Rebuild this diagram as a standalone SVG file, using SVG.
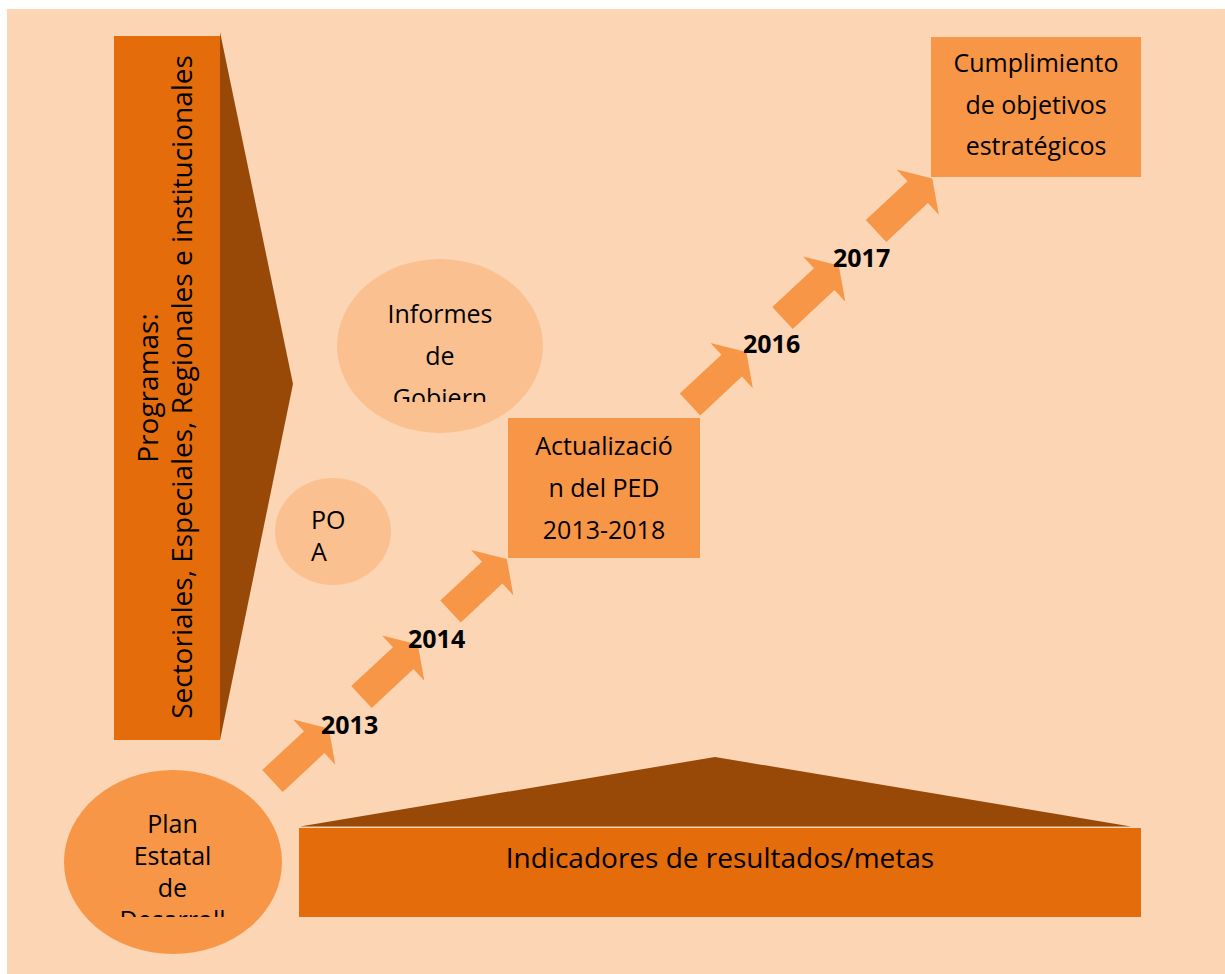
<svg xmlns="http://www.w3.org/2000/svg" xmlns:xlink="http://www.w3.org/1999/xlink" width="1225" height="974" viewBox="0 0 1225 974">
<style>
.t{font-family:"Open Sans","Liberation Sans",sans-serif;font-size:25px;fill:#000;}
.big{font-size:28px;}
.yr{font-family:"Open Sans","Liberation Sans",sans-serif;font-size:25px;font-weight:bold;fill:#000;}
.mid{text-anchor:middle;}
.box{fill:#F79646;}
.light{fill:#FAC090;}
.bar{fill:#E46C0A;}
.dark{fill:#984807;}
.arr{fill:#F79646;}
</style>
<defs>
<path id="arrow" d="M0,-15 H57 V-31 L77,0 L57,31 V15 H0 Z"/>
<clipPath id="clipInf"><rect x="330" y="280" width="220" height="122"/></clipPath>
<clipPath id="clipPlan"><rect x="60" y="800" width="230" height="117"/></clipPath>
</defs>
<rect x="7" y="9" width="1218" height="965" fill="#FCD5B5"/>
<g id="programas">
<polygon class="dark" points="220,32 293,384 220,740"/>
<rect class="bar" x="114" y="36" width="106" height="704"/>
<text class="t big mid" transform="translate(158,388) rotate(-90)">Programas:</text>
<text class="t big mid" transform="translate(191.5,387) rotate(-90)">Sectoriales, Especiales, Regionales e institucionales</text>
</g>
<g id="indicadores">
<polygon class="dark" points="300,826.5 715,757 1131,826.5"/>
<rect class="bar" x="299" y="828" width="842" height="89"/>
<text class="t big mid" x="720" y="868">Indicadores de resultados/metas</text>
</g>
<g id="informes">
<ellipse class="light" cx="440" cy="346" rx="103" ry="87"/>
<g clip-path="url(#clipInf)">
<text class="t mid" x="440" y="322.7">Informes</text>
<text class="t mid" x="440" y="365">de</text>
<text class="t mid" x="440" y="407.3">Gobiern</text>
</g>
</g>
<g id="poa">
<ellipse class="light" cx="333" cy="531.5" rx="58" ry="53.5"/>
<text class="t" x="311" y="529">PO</text>
<text class="t" x="311" y="561">A</text>
</g>
<g id="plan">
<ellipse class="box" cx="173" cy="862" rx="109" ry="92"/>
<g clip-path="url(#clipPlan)">
<text class="t mid" x="172.5" y="832.7">Plan</text>
<text class="t mid" x="172.5" y="865">Estatal</text>
<text class="t mid" x="172.5" y="896.7">de</text>
<text class="t mid" x="172.5" y="928.5">Desarroll</text>
</g>
</g>
<g id="actualizacion">
<rect class="box" x="508" y="418" width="192" height="140"/>
<text class="t mid" x="604" y="455">Actualizació</text>
<text class="t mid" x="604" y="497">n del PED</text>
<text class="t mid" x="604" y="538.5">2013-2018</text>
</g>
<g id="cumplimiento">
<rect class="box" x="931" y="37" width="210" height="140"/>
<text class="t mid" x="1036" y="72">Cumplimiento</text>
<text class="t mid" x="1036" y="114">de objetivos</text>
<text class="t mid" x="1036" y="155">estratégicos</text>
</g>
<g id="connectors" class="arr">
<use xlink:href="#arrow" transform="translate(272.5,781) rotate(-43)"/>
<use xlink:href="#arrow" transform="translate(361.5,697) rotate(-43)"/>
<use xlink:href="#arrow" transform="translate(450.5,611.5) rotate(-43)"/>
<use xlink:href="#arrow" transform="translate(690,404.5) rotate(-43)"/>
<use xlink:href="#arrow" transform="translate(782.5,318) rotate(-43)"/>
<use xlink:href="#arrow" transform="translate(876,231) rotate(-43)"/>
</g>
<g id="years">
<text class="yr" x="321" y="734">2013</text>
<text class="yr" x="408" y="648">2014</text>
<text class="yr" x="743" y="353">2016</text>
<text class="yr" x="833" y="267">2017</text>
</g>
</svg>
